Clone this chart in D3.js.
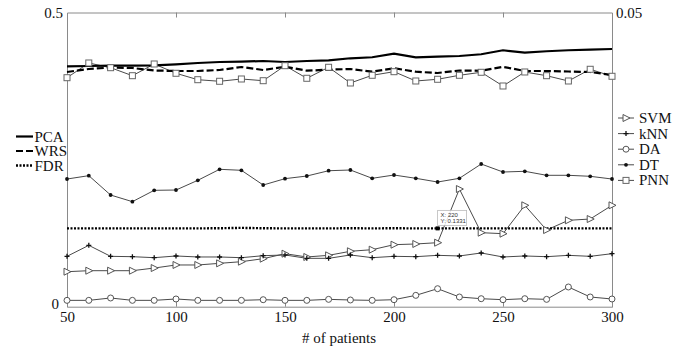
<!DOCTYPE html>
<html>
<head>
<meta charset="utf-8">
<script src="https://cdn.jsdelivr.net/npm/d3@7"></script>
<style>
  body { margin: 0; background: #fff; }
  svg { display: block; font-family: "Liberation Serif", "Times New Roman", serif; }
</style>
</head>
<body>
<svg id="chart" width="682" height="348"></svg>
<script>
// ---- data ----
const patients = [50,60,70,80,90,100,110,120,130,140,150,160,170,180,190,200,210,220,230,240,250,260,270,280,290,300];

const pca = [0.4086,0.4091,0.4096,0.4096,0.4103,0.4120,0.4142,0.4159,0.4164,0.4176,0.4159,0.4176,0.4188,0.4222,0.4239,0.4300,0.4239,0.4249,0.4261,0.4290,0.4358,0.4317,0.4341,0.4358,0.4368,0.4380];
const wrs = [0.3989,0.4040,0.4065,0.4057,0.4014,0.4006,0.4006,0.4023,0.4074,0.4023,0.4079,0.4011,0.4028,0.4040,0.3994,0.4052,0.3994,0.3972,0.4014,0.4009,0.4077,0.4006,0.4006,0.3997,0.3989,0.3938];
const fdr = [0.1331,0.1331,0.1331,0.1331,0.1331,0.1331,0.1331,0.1333,0.1340,0.1333,0.1331,0.1331,0.1331,0.1333,0.1331,0.1333,0.1331,0.1331,0.1331,0.1331,0.1331,0.1331,0.1331,0.1331,0.1331,0.1331];

const svm = [0.0595,0.0612,0.0612,0.0612,0.0657,0.0709,0.0709,0.0737,0.0765,0.0816,0.0901,0.0845,0.0873,0.0942,0.0969,0.1054,0.1066,0.1088,0.2000,0.1258,0.1241,0.1723,0.1303,0.1468,0.1490,0.1723];
const knn = [0.0856,0.1043,0.0856,0.0850,0.0833,0.0862,0.0845,0.0845,0.0833,0.0867,0.0879,0.0822,0.0822,0.0879,0.0833,0.0856,0.0850,0.0873,0.0862,0.0913,0.0845,0.0862,0.0850,0.0873,0.0856,0.0901];
const da  = [0.0108,0.0108,0.0148,0.0108,0.0108,0.0131,0.0108,0.0108,0.0108,0.0119,0.0108,0.0108,0.0125,0.0114,0.0108,0.0119,0.0193,0.0306,0.0165,0.0136,0.0119,0.0136,0.0125,0.0335,0.0165,0.0131];
const dt  = [0.2170,0.2227,0.1898,0.1785,0.1978,0.1983,0.2148,0.2335,0.2318,0.2068,0.2176,0.2221,0.2311,0.2323,0.2182,0.2238,0.2182,0.2119,0.2182,0.2425,0.2289,0.2301,0.2233,0.2233,0.2216,0.2170];
const pnn = [0.3892,0.4142,0.4062,0.3926,0.4125,0.3967,0.3858,0.3831,0.3870,0.3841,0.4096,0.3882,0.4069,0.3802,0.3933,0.3994,0.3836,0.3865,0.3933,0.3984,0.3751,0.3989,0.3926,0.3836,0.4035,0.3916];

const xTicks = [50,100,150,200,250,300];
const xTopTicks = [100,150,200,250];
const yLeftTicks = [0,0.5];
const yRightTicks = [0.05];
const tipIndex = 17;

// ---- scales ----
const svg = d3.select("#chart");
const x = d3.scaleLinear().domain([50,300]).range([67,612]);
const y = d3.scaleLinear().domain([0,0.5]).range([306.7,12.5]);
const yR = d3.scaleLinear().domain([0,0.05]).range([306.7,12.5]);

const frameColor = "#8a8a8a";
const seriesColor = "#4a4a4a";
const FONT = "Liberation Serif";

// ---- axes ----
const gB = svg.append("g").attr("transform", `translate(0,${y(0)})`)
  .call(d3.axisBottom(x).tickValues(xTicks).tickSize(-5).tickPadding(5).tickFormat(d3.format("d")));
const gT = svg.append("g").attr("transform", `translate(0,${y(0.5)})`)
  .call(d3.axisTop(x).tickValues(xTopTicks).tickSize(-5).tickFormat(""));
const gL = svg.append("g").attr("transform", `translate(${x(50)},0)`)
  .call(d3.axisLeft(y).tickValues(yLeftTicks).tickSize(0).tickPadding(4).tickFormat(d => d === 0 ? "0" : d3.format(".1f")(d)));
const gR = svg.append("g").attr("transform", `translate(${x(300)},0)`)
  .call(d3.axisRight(yR).tickValues(yRightTicks).tickSize(0).tickPadding(4).tickFormat(d3.format(".2f")));

[gB, gT, gL, gR].forEach(g => {
  g.attr("font-family", FONT);
  g.select(".domain").attr("stroke", frameColor);
  g.selectAll(".tick line").attr("stroke", frameColor);
  g.selectAll(".tick text").attr("fill", "#111").style("font-size", "15px").style("font-family", FONT);
});
gL.selectAll(".tick text").filter(d => d === 0).attr("dx", "-4").attr("dy", "0.15em");

svg.append("text").attr("x", 339).attr("y", 343).attr("text-anchor", "middle")
  .style("font-size", "15px").style("font-family", FONT).attr("fill", "#111").text("# of patients");

// ---- lines ----
const line = d3.line().x((d,i) => x(patients[i])).y(d => y(d));

const main = [
  {name:"PCA", data:pca, dash:null, w:2.2},
  {name:"WRS", data:wrs, dash:"7,3", w:2.2},
  {name:"FDR", data:fdr, dash:"2,1.5", w:2.4}
];
const cls = [
  {name:"SVM", data:svm, marker:"tri"},
  {name:"kNN", data:knn, marker:"plus"},
  {name:"DA",  data:da,  marker:"circle"},
  {name:"DT",  data:dt,  marker:"dot"},
  {name:"PNN", data:pnn, marker:"square"}
];

function drawMarker(g, type) {
  if (type === "tri") g.append("path").attr("d","M-3,-3.5L4,0L-3,3.5Z").attr("fill","#fff").attr("stroke","#555").attr("stroke-width",1);
  else if (type === "plus") g.append("path").attr("d","M-2.5,0H2.5M0,-2.5V2.5").attr("stroke","#111").attr("stroke-width",1.3);
  else if (type === "circle") g.append("circle").attr("r",3).attr("fill","#fff").attr("stroke","#555").attr("stroke-width",1);
  else if (type === "dot") g.append("circle").attr("r",1.9).attr("fill","#111");
  else if (type === "square") g.append("rect").attr("x",-3).attr("y",-3).attr("width",6).attr("height",6).attr("fill","#fff").attr("stroke","#666").attr("stroke-width",1);
}

cls.forEach(s => {
  svg.append("path").datum(s.data).attr("d", line).attr("fill","none").attr("stroke",seriesColor).attr("stroke-width",1);
});
main.forEach(s => {
  svg.append("path").datum(s.data).attr("d", line).attr("fill","none").attr("stroke","#000")
    .attr("stroke-width",s.w).attr("stroke-dasharray", s.dash);
});
cls.forEach(s => {
  s.data.forEach((v,i) => {
    const g = svg.append("g").attr("transform", `translate(${x(patients[i])},${y(v)})`);
    drawMarker(g, s.marker);
  });
});

// ---- data tip ----
const tx = x(patients[tipIndex]), ty = y(fdr[tipIndex]);
svg.append("rect").attr("x", tx-2).attr("y", ty-2).attr("width",4).attr("height",4).attr("fill","#000");
const tip = svg.append("g").attr("transform", `translate(${tx},${ty-18})`);
tip.append("rect").attr("x",0).attr("y",0).attr("width",29).attr("height",15)
  .attr("fill","#fff").attr("fill-opacity",0.85).attr("stroke","#bbb").attr("stroke-width",0.8);
tip.append("text").attr("x",3).attr("y",6.5).style("font-size","6px").style("font-family","Liberation Sans").attr("fill","#333")
  .text(`X: ${patients[tipIndex]}`);
tip.append("text").attr("x",3).attr("y",13).style("font-size","6px").style("font-family","Liberation Sans").attr("fill","#333")
  .text(`Y: ${fdr[tipIndex].toFixed(4)}`);

// ---- legends ----
const legL = svg.append("g");
main.forEach((s,i) => {
  const yy = 136.5 + i*14.5;
  legL.append("line").attr("x1",16).attr("x2",33).attr("y1",yy).attr("y2",yy)
    .attr("stroke","#000").attr("stroke-width",s.w).attr("stroke-dasharray",s.dash);
  legL.append("text").attr("x",34.5).attr("y",yy+5).style("font-size","15px").style("font-family", FONT).attr("fill","#111").text(s.name);
});

const legR = svg.append("g");
cls.forEach((s,i) => {
  const yy = 118 + i*15.6;
  legR.append("line").attr("x1",618).attr("x2",634).attr("y1",yy).attr("y2",yy)
    .attr("stroke",seriesColor).attr("stroke-width",1);
  const g = legR.append("g").attr("transform",`translate(626,${yy})`);
  drawMarker(g, s.marker);
  legR.append("text").attr("x",639).attr("y",yy+5).style("font-size","15px").style("font-family", FONT).attr("fill","#111").text(s.name);
});
</script>
</body>
</html>
